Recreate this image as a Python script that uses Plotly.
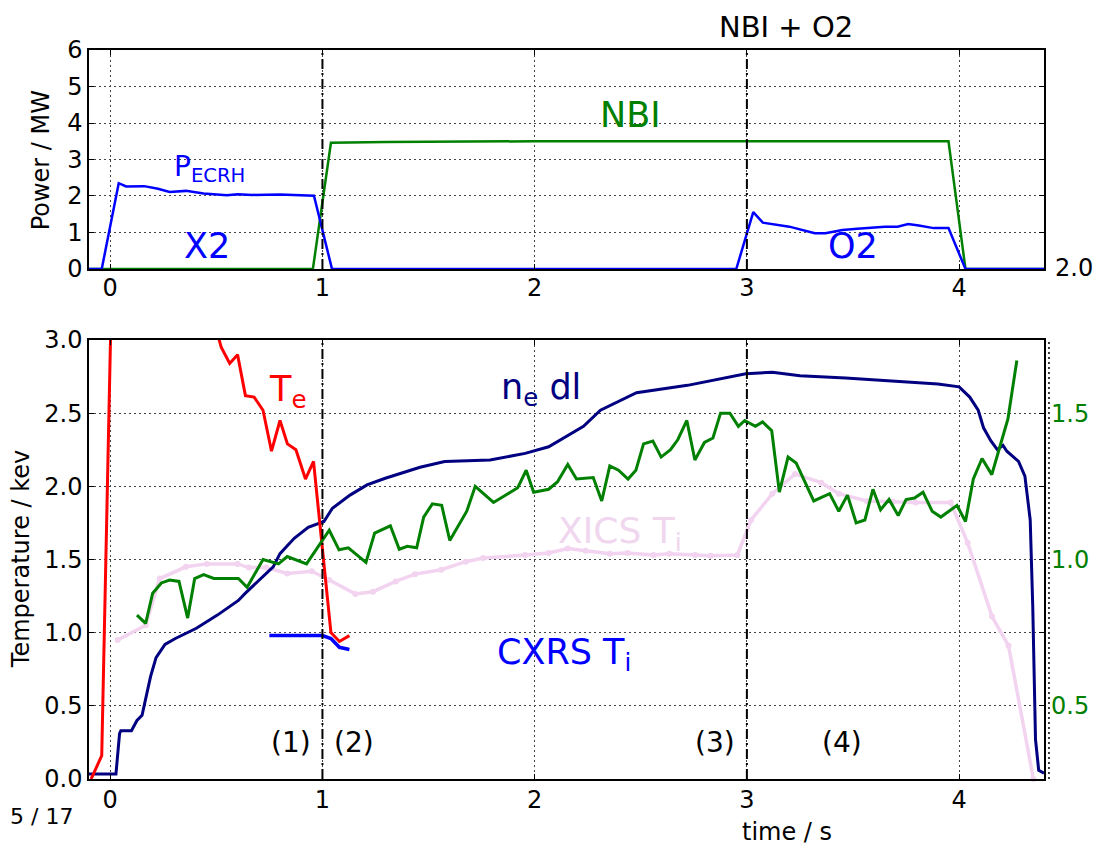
import plotly.graph_objects as go

# ---- top panel: heating power / MW
ecrh_t = [-0.10, -0.04, 0.04, 0.075, 0.16, 0.225, 0.28, 0.357, 0.44, 0.55, 0.60, 0.67, 0.80, 0.88, 0.96, 1.045,
          2.95, 3.03, 3.075, 3.20, 3.32, 3.37, 3.45, 3.52, 3.65, 3.71, 3.76, 3.81, 3.88, 3.95, 4.03, 4.40]
ecrh_p = [0, 0, 2.35, 2.26, 2.27, 2.20, 2.11, 2.14, 2.07, 2.02, 2.05, 2.03, 2.04, 2.03, 2.01, 0,
          0, 1.56, 1.27, 1.16, 0.98, 0.98, 1.07, 1.10, 1.16, 1.16, 1.23, 1.19, 1.12, 1.12, 0, 0]

nbi_t = [-0.10, 0.955, 1.04, 1.3, 2.0, 3.0, 3.95, 4.03, 4.40]
nbi_p = [0, 0, 3.46, 3.48, 3.5, 3.5, 3.5, 0, 0]

# ---- bottom panel
te_t = [-0.09, -0.04, 0.01, 0.2, 0.4, 0.515, 0.523, 0.563, 0.60, 0.637, 0.678, 0.72, 0.76, 0.80, 0.835,
        0.875, 0.92, 0.958, 1.04, 1.08, 1.127]
te_v = [0.0, 0.16, 3.6, 3.9, 3.6, 3.0, 2.95, 2.84, 2.90, 2.62, 2.61, 2.52, 2.24, 2.45, 2.29,
        2.25, 2.05, 2.17, 1.0, 0.94, 0.98]

ne_t = [-0.10, 0.027, 0.044, 0.05, 0.10, 0.126, 0.15, 0.167, 0.19, 0.216, 0.258, 0.307, 0.406, 0.505, 0.604,
        0.637, 0.735, 0.768, 0.80, 0.867, 0.933, 1.007, 1.047, 1.13, 1.21, 1.296, 1.46, 1.576, 1.79, 1.955,
        2.066, 2.23, 2.31, 2.48, 2.72, 2.89, 2.995, 3.12, 3.25, 3.465, 3.71, 3.90, 4.0, 4.05, 4.09, 4.115,
        4.15, 4.18, 4.207, 4.225, 4.28, 4.31, 4.335, 4.347, 4.36, 4.375, 4.40]
ne_v = [0.034, 0.034, 0.31, 0.33, 0.33, 0.40, 0.435, 0.54, 0.70, 0.83, 0.92, 0.96, 1.03, 1.12, 1.22,
        1.27, 1.41, 1.45, 1.54, 1.645, 1.72, 1.76, 1.85, 1.94, 2.01, 2.055, 2.13, 2.17, 2.18, 2.225,
        2.27, 2.41, 2.52, 2.64, 2.69, 2.74, 2.77, 2.78, 2.755, 2.74, 2.72, 2.70, 2.68, 2.61, 2.52, 2.40,
        2.31, 2.25, 2.28, 2.24, 2.17, 2.07, 1.77, 1.18, 0.27, 0.06, 0.04]

# green trace, right axis units
g_t = [0.126, 0.167, 0.20, 0.241, 0.28, 0.324, 0.365, 0.398, 0.44, 0.488, 0.604, 0.645, 0.72, 0.793, 0.834,
       0.925, 1.032, 1.078, 1.122, 1.205, 1.246, 1.32, 1.362, 1.40, 1.444, 1.477, 1.518, 1.562, 1.60, 1.68,
       1.72, 1.806, 1.92, 1.96, 1.995, 2.066, 2.107, 2.156, 2.197, 2.276, 2.316, 2.354, 2.395, 2.44, 2.477,
       2.513, 2.557, 2.596, 2.64, 2.675, 2.717, 2.755, 2.80, 2.84, 2.876, 2.92, 2.96, 2.99, 3.04, 3.074,
       3.117, 3.153, 3.194, 3.232, 3.315, 3.39, 3.433, 3.474, 3.515, 3.556, 3.594, 3.63, 3.67, 3.713, 3.75,
       3.79, 3.83, 3.873, 3.914, 3.99, 4.03, 4.067, 4.108, 4.154, 4.19, 4.23, 4.272]
g_v = [0.81, 0.782, 0.885, 0.92, 0.93, 0.925, 0.80, 0.935, 0.948, 0.935, 0.935, 0.905, 1.0, 0.985, 1.01,
       0.985, 1.10, 1.033, 1.04, 0.99, 1.09, 1.115, 1.035, 1.045, 1.04, 1.145, 1.19, 1.185, 1.065, 1.165,
       1.25, 1.195, 1.245, 1.305, 1.23, 1.24, 1.265, 1.325, 1.275, 1.28, 1.20, 1.32, 1.305, 1.275, 1.305,
       1.395, 1.405, 1.35, 1.375, 1.41, 1.475, 1.34, 1.40, 1.415, 1.50, 1.50, 1.455, 1.475, 1.455, 1.47,
       1.44, 1.23, 1.35, 1.33, 1.20, 1.225, 1.165, 1.22, 1.125, 1.135, 1.24, 1.17, 1.205, 1.15, 1.205,
       1.21, 1.23, 1.165, 1.145, 1.185, 1.13, 1.275, 1.345, 1.29, 1.38, 1.48, 1.68]

xics_t = [0.035, 0.167, 0.233, 0.357, 0.455, 0.60, 0.653, 0.735, 0.834, 0.95, 1.032, 1.155, 1.238, 1.345,
          1.436, 1.56, 1.675, 1.757, 1.955, 2.066, 2.156, 2.24, 2.354, 2.437, 2.56, 2.634, 2.756, 2.83, 2.955,
          3.02, 3.12, 3.227, 3.35, 3.433, 3.565, 3.688, 3.795, 3.96, 4.04, 4.155, 4.233, 4.35]
xics_v = [0.95, 1.05, 1.37, 1.45, 1.47, 1.47, 1.445, 1.445, 1.405, 1.42, 1.36, 1.265, 1.28, 1.35,
          1.40, 1.43, 1.485, 1.51, 1.53, 1.545, 1.575, 1.56, 1.54, 1.545, 1.53, 1.54, 1.53, 1.525, 1.53,
          1.77, 1.95, 2.085, 2.025, 1.95, 1.90, 1.895, 1.89, 1.89, 1.615, 1.11, 0.91, 0.0]

cxrs_t = [0.75, 0.85, 1.0, 1.04, 1.08, 1.127]
cxrs_v = [0.98, 0.98, 0.98, 0.96, 0.90, 0.885]

FONT = "DejaVu Sans"
fig = go.Figure()

fig.add_trace(go.Scatter(x=nbi_t, y=nbi_p, mode="lines", line=dict(color="#008000", width=2.5),
                         xaxis="x", yaxis="y"))
fig.add_trace(go.Scatter(x=ecrh_t, y=ecrh_p, mode="lines", line=dict(color="#0000ff", width=2.5),
                         xaxis="x", yaxis="y"))

fig.add_trace(go.Scatter(x=xics_t, y=xics_v, mode="lines+markers", cliponaxis=False,
                         line=dict(color="#f2d3f0", width=3.5), marker=dict(size=6, color="#f2d3f0"),
                         xaxis="x2", yaxis="y2"))
fig.add_trace(go.Scatter(x=g_t, y=g_v, mode="lines", line=dict(color="#008000", width=3),
                         xaxis="x2", yaxis="y3"))
fig.add_trace(go.Scatter(x=ne_t, y=ne_v, mode="lines", line=dict(color="#000080", width=3),
                         xaxis="x2", yaxis="y2"))
fig.add_trace(go.Scatter(x=te_t, y=te_v, mode="lines", line=dict(color="#ff0000", width=3),
                         xaxis="x2", yaxis="y2"))
fig.add_trace(go.Scatter(x=cxrs_t, y=cxrs_v, mode="lines", line=dict(color="#0000ff", width=3.5),
                         xaxis="x2", yaxis="y2"))

axis_common = dict(showline=True, linecolor="black", linewidth=1.5, mirror="ticks",
                   ticks="inside", ticklen=5, tickcolor="black", zeroline=False,
                   showgrid=True, gridcolor="#444444", griddash="2px,3px", gridwidth=1,
                   tickfont=dict(family=FONT, size=24, color="black"))

# shapes: phase markers
shapes = []
for xv in [1, 3]:
    for yr in ["y domain", "y2 domain"]:
        shapes.append(dict(type="line", xref="x" if yr == "y domain" else "x2", yref=yr,
                           x0=xv, x1=xv, y0=0, y1=1,
                           line=dict(color="black", width=2, dash="10px,4px,2px,4px")))
shapes.append(dict(type="line", xref="paper", yref="y2 domain", x0=1.0052, x1=1.0052, y0=0, y1=1,
                   line=dict(color="black", width=1.5, dash="2px,3px")))

def txt(x, y, s, color, size, xref="x", yref="y", **kw):
    d = dict(x=x, y=y, text=s, xref=xref, yref=yref, showarrow=False,
             xanchor="center", yanchor="middle",
             font=dict(family=FONT, size=size, color=color))
    d.update(kw)
    return d

annotations = [
    txt(0.47, 2.75, "P<sub>ECRH</sub>", "#0000ff", 28),
    txt(0.455, 0.63, "X2", "#0000ff", 35),
    txt(2.45, 4.22, "NBI", "#008000", 35),
    txt(3.50, 0.63, "O2", "#0000ff", 35),
    txt(0.835, 2.65, "T<sub>e</sub>", "#ff0000", 35, "x2", "y2"),
    txt(2.03, 2.66, "n<sub>e</sub> dl", "#000080", 35, "x2", "y2"),
    txt(2.40, 1.68, "XICS T<sub>i</sub>", "#f0d6ee", 36, "x2", "y2"),
    txt(2.14, 0.85, "CXRS T<sub>i</sub>", "#0000ff", 35, "x2", "y2"),
    txt(0.85, 0.25, "(1)", "black", 28, "x2", "y2"),
    txt(1.15, 0.25, "(2)", "black", 28, "x2", "y2"),
    txt(2.85, 0.25, "(3)", "black", 28, "x2", "y2"),
    txt(3.45, 0.25, "(4)", "black", 28, "x2", "y2"),
    txt(0.730, 1.0316, "NBI + O2", "black", 29, "paper", "paper"),
    txt(0.731, -0.0727, "time / s", "black", 24, "paper", "paper"),
    txt(-0.0845, -0.052, "5 / 17", "black", 22, "paper", "paper", xanchor="left"),
    txt(1.0094, 0.701, "2.0", "black", 24, "paper", "paper", xanchor="left"),
    txt(-0.050, 0.849, "Power / MW", "black", 24, "paper", "paper", textangle=-90),
    txt(-0.0709, 0.302, "Temperature / kev", "black", 24, "paper", "paper", textangle=-90),
]

# the page body adds an 8px margin, so the figure is 8px smaller and shifted
fig.update_layout(
    width=1093, height=838,
    margin=dict(l=81, r=53, t=42, b=67),
    paper_bgcolor="white", plot_bgcolor="white",
    showlegend=False,
    xaxis=dict(axis_common, domain=[0, 1], anchor="y", range=[-0.1, 4.4], tickvals=[0, 1, 2, 3, 4],
               ticklabelstandoff=-4),
    yaxis=dict(axis_common, domain=[0.6996, 1], anchor="x", range=[0, 6], tickvals=[0, 1, 2, 3, 4, 5, 6]),
    xaxis2=dict(axis_common, domain=[0, 1], anchor="y2", range=[-0.1, 4.4], tickvals=[0, 1, 2, 3, 4],
                ticklabelstandoff=-2),
    yaxis2=dict(axis_common, domain=[0, 0.6022], anchor="x2", range=[0, 3],
                tickvals=[0, 0.5, 1, 1.5, 2, 2.5, 3], tickformat=".1f"),
    yaxis3=dict(overlaying="y2", side="right", anchor="x2", range=[0.25, 1.75],
                tickvals=[0.5, 1.0, 1.5], tickformat=".1f", showgrid=False, zeroline=False,
                showline=False, ticks="", ticklabelstandoff=6,
                tickfont=dict(family=FONT, size=24, color="#008000")),
    shapes=shapes,
    annotations=annotations,
)

fig.write_html("out.html")
